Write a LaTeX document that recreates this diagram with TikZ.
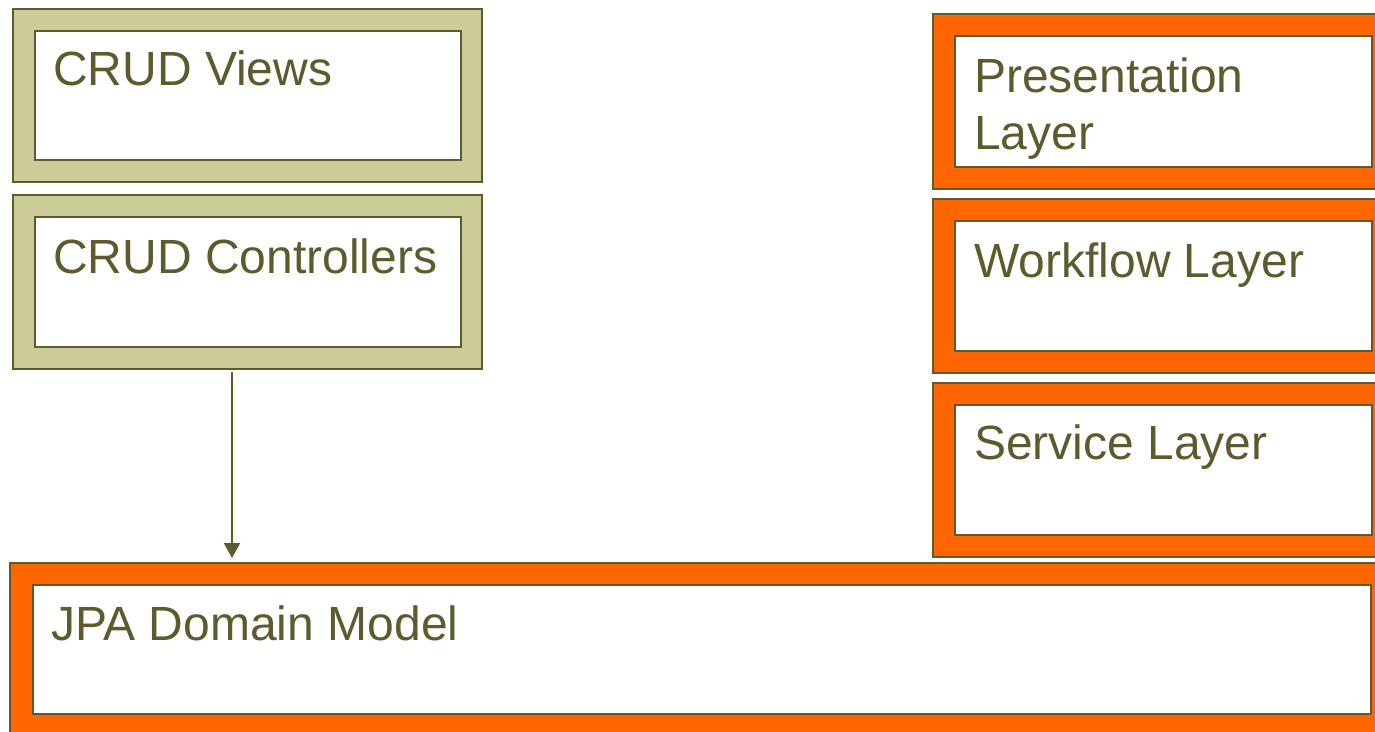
\documentclass[tikz,border=0pt]{standalone}
\usepackage{fontspec}
\setmainfont{Liberation Sans}
\usetikzlibrary{arrows.meta}
\definecolor{olivedark}{RGB}{93,91,45}
\definecolor{olivefill}{RGB}{204,204,153}
\definecolor{layerorange}{RGB}{255,102,0}
\tikzset{
  frame/.style={draw=olivedark, line width=2pt, anchor=north west, inner sep=0pt},
  crudframe/.style={frame, fill=olivefill},
  layerframe/.style={frame, fill=layerorange},
  panel/.style={draw=olivedark, line width=2.4pt, fill=white, anchor=north west, inner sep=0pt},
  caption/.style={anchor=base west, inner sep=0pt, text=olivedark, align=left,
    font=\fontsize{48}{57}\selectfont},
  link/.style={draw=olivedark, line width=2pt, -{Triangle[width=16pt,length=15pt]}}
}
\begin{document}
\begin{tikzpicture}[x=1pt, y=-1pt]
  \clip (0,0) rectangle (1375,731);
  \fill[white] (0,0) rectangle (1375,731);

  % left column: CRUD tiers
  \node[crudframe, minimum width=469pt, minimum height=173pt] (viewsO) at (12,8) {};
  \node[panel, minimum width=426pt, minimum height=129pt] (views) at (34,30) {};
  \node[caption] (viewsT) at ([xshift=19pt,yshift=-55pt]views.north west) {CRUD Views};

  \node[crudframe, minimum width=469pt, minimum height=174pt] (ctrlO) at (12,194) {};
  \node[panel, minimum width=426pt, minimum height=130pt] (ctrl) at (34,216) {};
  \node[caption] (ctrlT) at ([xshift=19pt,yshift=-57pt]ctrl.north west) {CRUD Controllers};

  % right column: layered architecture
  \node[layerframe, minimum width=461pt, minimum height=175pt] (presO) at (932,13) {};
  \node[panel, minimum width=417pt, minimum height=131pt] (pres) at (954,35) {};
  % base anchor of a two-line caption sits on its last line
  \node[caption] (presT) at ([xshift=20pt,yshift=-114pt]pres.north west) {Presentation\\Layer};

  \node[layerframe, minimum width=461pt, minimum height=174pt] (flowO) at (932,198) {};
  \node[panel, minimum width=417pt, minimum height=130pt] (flow) at (954,220) {};
  \node[caption] (flowT) at ([xshift=20pt,yshift=-57pt]flow.north west) {Workflow Layer};

  \node[layerframe, minimum width=461pt, minimum height=174pt] (servO) at (932,382) {};
  \node[panel, minimum width=417pt, minimum height=130pt] (serv) at (954,404) {};
  \node[caption] (servT) at ([xshift=20pt,yshift=-55pt]serv.north west) {Service Layer};

  % bottom: domain model
  \node[layerframe, minimum width=1383pt, minimum height=173pt] (jpaO) at (9,562) {};
  \node[panel, minimum width=1338pt, minimum height=129pt] (jpa) at (32,584) {};
  \node[caption] (jpaT) at ([xshift=19pt,yshift=-56pt]jpa.north west) {JPA Domain Model};

  % controllers depend on the domain model
  \coordinate (ctrlBase) at (232,368);
  \coordinate (jpaTop) at (232,562);
  \draw[link, shorten <=4pt, shorten >=4pt] (ctrlBase) -- (jpaTop);
\end{tikzpicture}
\end{document}
